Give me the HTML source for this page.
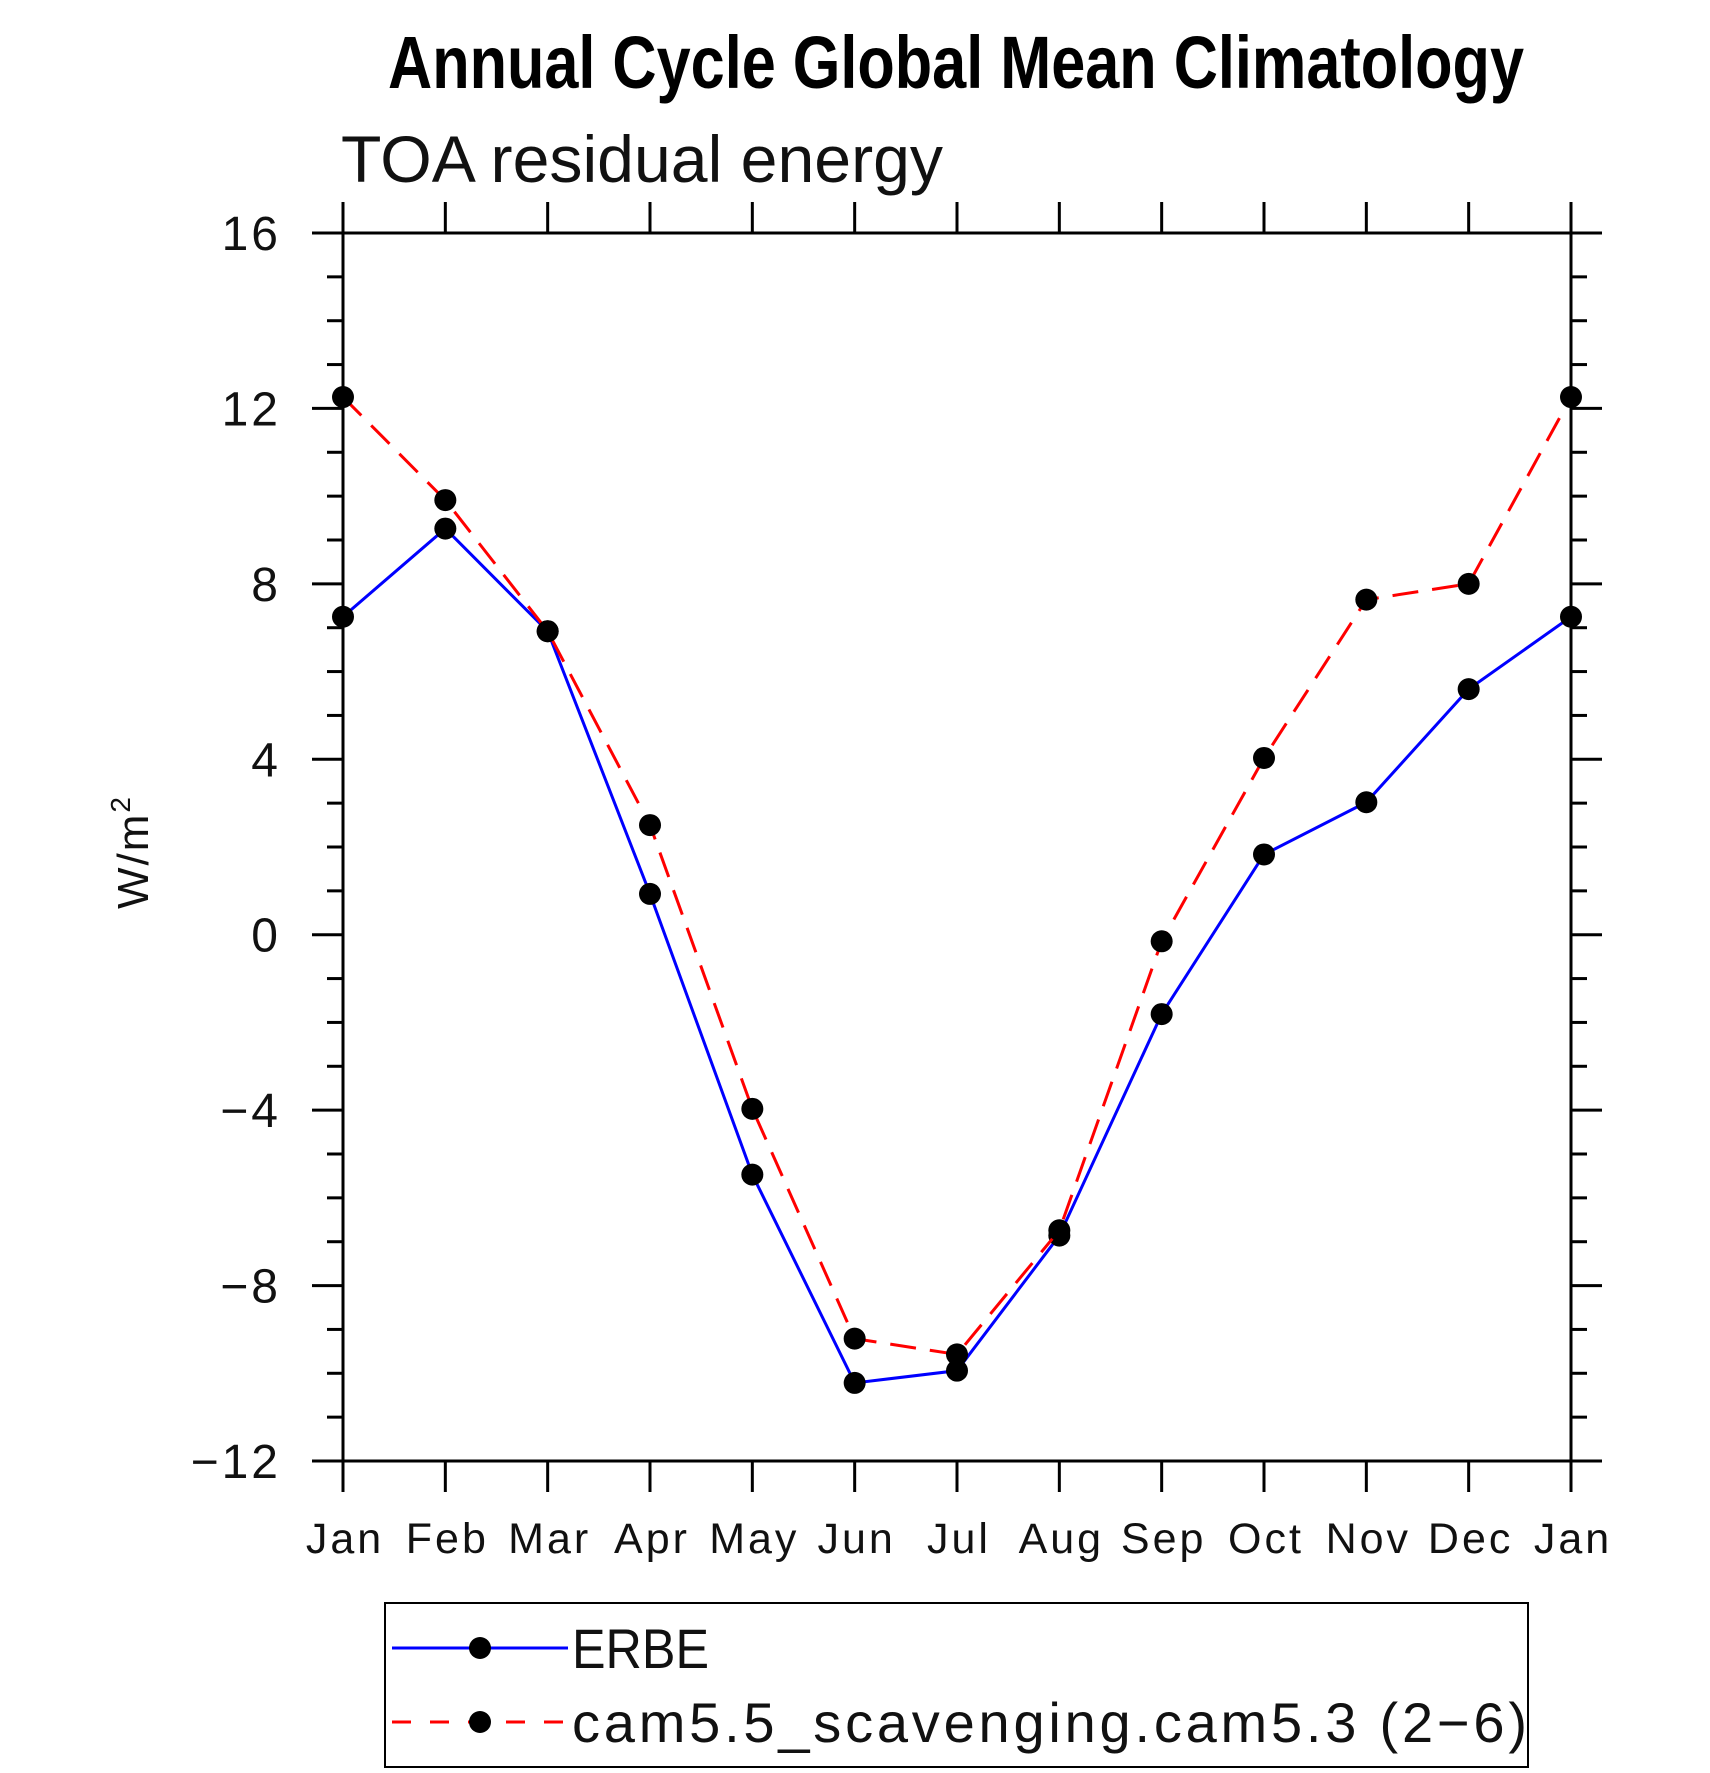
<!DOCTYPE html>
<html><head><meta charset="utf-8"><style>html,body{margin:0;padding:0;background:#fff}svg{display:block}</style></head>
<body>
<svg id="chart" width="1710" height="1773" viewBox="0 0 1710 1773" xmlns="http://www.w3.org/2000/svg" font-family="'Liberation Sans', sans-serif">
<text x="956" y="88" text-anchor="middle" font-size="74" font-weight="bold" textLength="1136" lengthAdjust="spacingAndGlyphs">Annual Cycle Global Mean Climatology</text>
<text x="341" y="182" font-size="66" textLength="602" lengthAdjust="spacingAndGlyphs" fill="#111">TOA residual energy</text>
<text transform="translate(148,852) rotate(-90)" text-anchor="middle" font-size="44" letter-spacing="2" fill="#111">W/m<tspan font-size="28" dy="-18">2</tspan></text>
<g id="axes"></g>
<g id="series"></g>
<g>
<rect x="385" y="1603" width="1143" height="164" fill="none" stroke="#000" stroke-width="2"/>
<g>
<line x1="392" y1="1648" x2="568" y2="1648" stroke="#0000ff" stroke-width="3"/>
<circle cx="480" cy="1648" r="11"/>
<text x="572" y="1668" font-size="56" fill="#111" textLength="137" lengthAdjust="spacingAndGlyphs">ERBE</text>
</g>
<g>
<line x1="392" y1="1722" x2="568" y2="1722" stroke="#ff0000" stroke-width="3" stroke-dasharray="19,19"/>
<circle cx="480" cy="1722" r="11"/>
<text x="572" y="1742" font-size="56" fill="#111" textLength="955" lengthAdjust="spacing">cam5.5_scavenging.cam5.3 (2−6)</text>
</g>
</g>
</svg>
<script>
const months = ["Jan","Feb","Mar","Apr","May","Jun","Jul","Aug","Sep","Oct","Nov","Dec","Jan"];
const erbeValues = [7.25,9.26,6.92,0.93,-5.47,-10.22,-9.94,-6.86,-1.81,1.83,3.02,5.6,7.25];
const camValues = [12.26,9.91,6.92,2.5,-3.97,-9.21,-9.57,-6.74,-0.15,4.03,7.64,8.0,12.26];
const yTicks = [16,12,8,4,0,-4,-8,-12];
const yTickLabels = ["16","12","8","4","0","\u22124","\u22128","\u221212"];

const NS="http://www.w3.org/2000/svg";
const X0=343,X1=1571,Y0=233,Y1=1461,YMIN=-12,YMAX=16;
const xs=i=>X0+(X1-X0)*i/(months.length-1);
const ys=v=>Y0+(YMAX-v)*(Y1-Y0)/(YMAX-YMIN);
function mk(tag,attrs,parent){const e=document.createElementNS(NS,tag);for(const k in attrs)e.setAttribute(k,attrs[k]);parent.appendChild(e);return e;}
const axes=document.getElementById('axes');
const ln={stroke:"#000","stroke-width":3};
let e;
e=mk('rect',{x:X0,y:Y0,width:X1-X0,height:Y1-Y0,fill:"none",stroke:"#000","stroke-width":3},axes);


mk('line',Object.assign({x1:X0-31,y1:Y0,x2:X1+31,y2:Y0},ln),axes);
mk('line',Object.assign({x1:X0-31,y1:Y1,x2:X1+31,y2:Y1},ln),axes);
mk('line',Object.assign({x1:X0,y1:Y0-31,x2:X0,y2:Y1+31},ln),axes);
mk('line',Object.assign({x1:X1,y1:Y0-31,x2:X1,y2:Y1+31},ln),axes);
months.forEach((m,i)=>{
  const x=xs(i);
  mk('line',Object.assign({x1:x,y1:Y0-31,x2:x,y2:Y0},ln),axes);
  mk('line',Object.assign({x1:x,y1:Y1,x2:x,y2:Y1+31},ln),axes);
  const t=mk('text',{x:x+2,y:1553,"text-anchor":"middle","font-size":43,"letter-spacing":3,fill:"#111"},axes);
  t.textContent=m;
  
  
});
for(let v=YMIN;v<=YMAX;v+=1){
  const y=ys(v);const major=(v%4===0);
  const L=major?31:16;
  mk('line',Object.assign({x1:X0-L,y1:y,x2:X0,y2:y},ln),axes);
  mk('line',Object.assign({x1:X1,y1:y,x2:X1+L,y2:y},ln),axes);
}
yTicks.forEach((v,i)=>{
  const t=mk('text',{x:281,y:ys(v)+17,"text-anchor":"end","font-size":48,"letter-spacing":3,fill:"#111"},axes);
  t.textContent=yTickLabels[i];
  
  
});
const series=document.getElementById('series');
function drawSeries(vals,color,dash,name){
  const g=mk('g',{},series);
  
  
  const p=mk('polyline',{points:vals.map((v,i)=>xs(i)+","+ys(v)).join(" "),fill:"none",stroke:color,"stroke-width":3},g);
  if(dash)p.setAttribute('stroke-dasharray',dash);
  
  
  return g;
}
const g1=drawSeries(erbeValues,"#0000ff",null,"erbe-series");
const g2=drawSeries(camValues,"#ff0000","26,14","cam-series");
[[erbeValues,g1],[camValues,g2]].forEach(([vals,g])=>{
  vals.forEach((v,i)=>{
    const c=mk('circle',{cx:xs(i),cy:ys(v),r:11,fill:"#000"},g);
    
    
  });
});
</script>
</body></html>
